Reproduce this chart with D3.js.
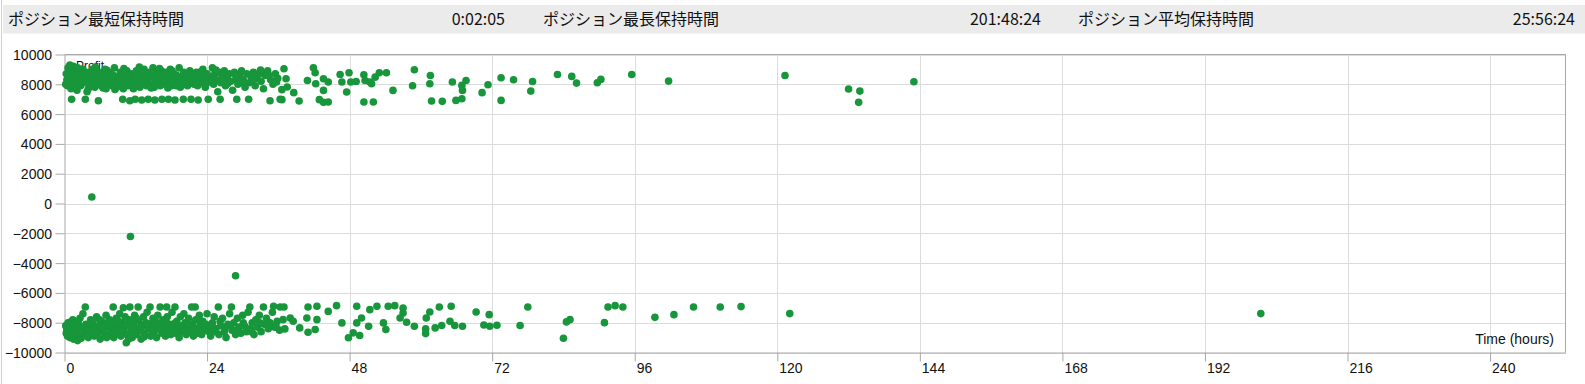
<!DOCTYPE html>
<html><head><meta charset="utf-8">
<script src="https://cdn.jsdelivr.net/npm/d3@7"></script>
<style>
html,body{margin:0;padding:0;background:#fff;}
svg{display:block;}
</style></head>
<body>
<svg id="chart" width="1585" height="384"></svg>
<script>
// ---- header data ----
const headerLabels = ["ポジション最短保持時間", "ポジション最長保持時間", "ポジション平均保持時間"];
const headerValues = ["0:02:05", "201:48:24", "25:56:24"];

// ---- axis data ----
const xTicks = [0, 24, 48, 72, 96, 120, 144, 168, 192, 216, 240];
const yTicks = [-10000, -8000, -6000, -4000, -2000, 0, 2000, 4000, 6000, 8000, 10000];
const xDomain = [0, 252.7];
const yDomain = [-10000, 10000];
const xTitle = "Time (hours)";
const yTitle = "Profit";

// ---- series: [hours, profit] ----
const winTrades = [
[0.3,8700],[0.4,8300],[0.5,7900],[0.6,9100],[0.7,8500],[0.8,8100],[1.0,8800],[1.1,7700],[1.2,7000],[1.3,8400],[1.5,9200],[1.6,8000],[1.8,8600],[2.0,8900],[2.1,7600],[2.3,8200],[2.5,8700],[2.7,7900],[2.9,8400],[3.1,9000],[3.2,8100],[3.5,7000],[3.6,8600],[3.8,7500],[3.9,8300],[4.1,8800],[4.3,7900],[4.5,8500],[4.7,9000],[4.9,8200],[5.1,7800],[5.3,8600],[5.5,8100],[5.7,6900],[5.8,8800],[6.0,8400],[6.2,7900],[6.4,8700],[6.6,8200],[6.8,9000],[7.0,7700],[7.2,8500],[7.4,8100],[7.6,8800],[7.8,8300],[8.0,7900],[8.2,8600],[8.4,9100],[8.6,8200],[8.8,7800],[9.0,8500],[9.2,8000],[9.4,8800],[9.6,8300],[9.8,7000],[9.9,7700],[10.1,8600],[10.3,8100],[10.5,8900],[10.7,7900],[10.9,8400],[11.0,6900],[11.2,8700],[11.4,8200],[11.6,7700],[11.8,8500],[11.9,7000],[12.1,8900],[12.3,8000],[12.5,8400],[12.7,7800],[12.9,8700],[13.0,6950],[13.2,8200],[13.4,9000],[13.6,8500],[13.8,7900],[14.0,8300],[14.1,7000],[14.3,8800],[14.5,8000],[14.7,8500],[14.9,9100],[15.1,7800],[15.2,6950],[15.3,8300],[15.5,8700],[15.7,8100],[15.9,8500],[16.1,7900],[16.3,8900],[16.4,7000],[16.5,8300],[16.7,8600],[16.9,8000],[17.1,8800],[17.3,8200],[17.5,7000],[17.6,8500],[17.8,9000],[18.0,7900],[18.2,8400],[18.4,8700],[18.6,6950],[18.7,8100],[18.9,8600],[19.1,8200],[19.3,9100],[19.5,7800],[19.7,8500],[19.9,8000],[20.0,7000],[20.1,8800],[20.3,8300],[20.5,8600],[20.7,7900],[20.9,8400],[21.1,8900],[21.3,7000],[21.4,8200],[21.6,8700],[21.8,8000],[22.0,8500],[22.2,8800],[22.4,7900],[22.5,6950],[22.7,8300],[22.9,8600],[23.1,8100],[23.3,9000],[23.5,8400],[23.7,7800],[24.0,8700],[24.2,7000],[24.3,8200],[24.6,8500],[24.9,9100],[25.1,8000],[25.3,8700],[25.6,8300],[25.8,7500],[26.0,8800],[26.2,7000],[26.3,8100],[26.6,8600],[26.9,8900],[27.1,7900],[27.4,8400],[27.7,8700],[28.0,8200],[28.3,7600],[28.6,8800],[28.9,8300],[29.0,7000],[29.2,8000],[29.5,8600],[29.8,8900],[30.1,8300],[30.4,7800],[30.7,8700],[31.0,7000],[31.1,8100],[31.4,8500],[31.8,8800],[32.1,7900],[32.4,8400],[32.8,8700],[33.1,8200],[33.5,7700],[33.8,8600],[34.2,8900],[34.6,6900],[34.7,8300],[35.1,8000],[35.5,8700],[35.9,8400],[36.3,7000],
[0.2,8000],[0.9,9300],[1.4,8250],[2.2,9100],[2.6,8050],[3.3,8800],[4.0,7700],[4.6,8350],[5.2,9150],[5.9,8150],[6.5,7750],[7.1,8950],[7.9,8650],[8.5,7650],[9.3,8250],[10.0,9050],[10.6,8350],[11.3,7950],[12.0,8650],[12.6,9150],[13.3,8450],[13.9,8650],[14.6,7750],[15.4,8050],[16.0,9050],[16.8,8350],[17.4,7750],[18.1,8900],[18.8,7900],[19.6,8250],[20.4,8050],[21.2,8550],[22.1,8150],[23.0,8850],[23.9,8050],[24.8,8350],[25.5,8950],[26.5,8350],[27.5,8050],[28.8,8600],[30.0,8100],[31.6,8300],[33.0,8950],[34.4,8600],[35.7,8150],
[36.95,9040],[37.3,8375],[36.6,7640],[37.5,7815],[38.6,7440],[36.6,6970],[39.5,6880],[40.9,8260],[41.9,9110],[42.2,8775],[42.3,8040],[43.6,8375],[44.4,8150],[43.6,7590],[42.9,6970],[43.6,6790],[44.4,6810],[46.4,8660],[46.7,8150],[47.9,8775],[47.5,7480],[48.2,8150],[49.1,8190],[50.4,8640],[50.6,8260],[51.4,8150],[52.3,8480],[53.0,8775],[54.2,8775],[50.4,6810],[52.0,6810],[51.7,8040],[55.3,7590],[58.9,8975],[58.6,7905],[61.6,8595],[61.5,8040],[61.8,6880],[63.6,6855],[65.3,8150],[66.9,7925],[67.6,8260],[67.0,7590],[65.9,6920],[66.9,7035],[70.3,7440],[71.3,7970],[73.5,8440],[73.5,6920],[75.6,8305],[78.8,8190],[78.5,7545],[83.0,8660],[85.4,8530],[86.2,8080],[89.7,8105],[90.3,8330],[95.5,8660],[101.7,8215],[121.3,8595],[132.0,7680],[133.9,7545],[133.7,6790],[143.0,8170],
[4.6,435]
];
const lossTrades = [
[0.2,-8200],[0.3,-8700],[0.5,-8900],[0.6,-8000],[0.8,-8500],[0.9,-9000],[1.1,-8300],[1.2,-8800],[1.4,-7800],[1.5,-9100],[1.7,-8400],[1.9,-8000],[2.0,-8700],[2.2,-9200],[2.4,-8200],[2.6,-7700],[2.7,-8900],[2.9,-8400],[3.1,-7400],[3.3,-8600],[3.5,-6950],[3.6,-8100],[3.8,-8800],[4.0,-9000],[4.2,-8300],[4.4,-7800],[4.6,-8600],[4.8,-8100],[5.0,-8900],[5.2,-8400],[5.4,-7600],[5.6,-8700],[5.8,-8200],[6.0,-9100],[6.2,-7900],[6.4,-8500],[6.6,-8000],[6.8,-8800],[7.0,-7500],[7.2,-8300],[7.4,-8900],[7.6,-7800],[7.8,-8600],[8.0,-8100],[8.2,-6950],[8.3,-9000],[8.5,-8400],[8.7,-7700],[8.9,-8700],[9.1,-8200],[9.3,-7400],[9.5,-8900],[9.7,-8000],[9.9,-7000],[10.0,-8500],[10.2,-7600],[10.4,-9350],[10.5,-8800],[10.7,-8200],[10.9,-7800],[11.0,-6950],[11.2,-8600],[11.4,-9000],[11.6,-8000],[11.8,-7500],[12.0,-8400],[12.2,-8800],[12.4,-6950],[12.5,-7900],[12.7,-8500],[12.9,-9100],[13.1,-8200],[13.3,-7600],[13.5,-8700],[13.7,-8000],[13.9,-7300],[14.1,-8400],[14.4,-6950],[14.5,-8900],[14.7,-8100],[14.9,-7700],[15.1,-8600],[15.3,-8200],[15.5,-9000],[15.7,-7500],[15.9,-8400],[16.1,-6950],[16.2,-8000],[16.4,-8700],[16.6,-7800],[16.8,-8300],[17.0,-8900],[17.2,-6950],[17.3,-7600],[17.5,-8500],[17.7,-8100],[17.9,-8800],[18.1,-7300],[18.3,-8300],[18.6,-6950],[18.7,-8700],[18.9,-7900],[19.1,-8500],[19.3,-9000],[19.5,-7600],[19.7,-8200],[19.9,-8600],[20.1,-7400],[20.3,-8000],[20.5,-8800],[20.7,-8300],[20.9,-7700],[21.1,-8600],[21.4,-6950],[21.5,-8100],[21.7,-8900],[22.0,-6950],[22.1,-7800],[22.3,-8400],[22.5,-8700],[22.7,-7500],[22.9,-8200],[23.1,-8800],[23.3,-7900],[23.5,-8500],[23.8,-8100],[24.0,-7400],[24.3,-8600],[24.6,-8900],[24.9,-8000],[25.2,-7600],[25.5,-8400],[25.9,-6950],[26.0,-8800],[26.3,-8200],[26.6,-7700],[26.9,-8600],[27.2,-9000],[27.5,-8100],[27.8,-7400],[28.1,-6950],[28.2,-8500],[28.5,-8000],[28.8,-8800],[29.1,-7700],[29.4,-8300],[29.7,-8700],[30.0,-7500],[30.3,-8200],[30.6,-8600],[30.9,-7300],[31.2,-6950],[31.3,-8400],[31.6,-8000],[31.9,-8800],[32.2,-7800],[32.5,-8300],[32.8,-7500],[33.1,-8600],[33.5,-6950],[33.6,-8100],[34.0,-7700],[34.3,-8400],[34.6,-8000],[35.0,-7300],[35.2,-6900],[35.4,-8300],[35.8,-7900],[36.3,-6950],[36.2,-8500],
[0.4,-8450],[1.0,-7950],[1.6,-8650],[2.3,-7950],[2.8,-9050],[3.4,-8250],[4.1,-8550],[4.7,-7950],[5.3,-8700],[5.9,-7800],[6.5,-8300],[7.1,-9000],[7.7,-8200],[8.4,-8700],[9.0,-7850],[9.6,-8500],[10.3,-8100],[10.8,-9100],[11.5,-8350],[12.1,-7700],[12.8,-8300],[13.4,-8950],[14.0,-8050],[14.8,-8550],[15.6,-8000],[16.3,-8450],[17.1,-7900],[17.8,-8450],[18.5,-8050],[19.4,-8350],[20.2,-8550],[21.0,-8150],[21.9,-8500],[22.8,-8000],[23.6,-8300],[24.5,-8250],[25.3,-8600],[26.2,-7900],[27.0,-8350],[28.0,-8200],[29.0,-8500],[30.1,-8000],[31.5,-8600],[32.9,-8000],[34.1,-8100],[35.6,-8200],
[36.95,-6945],[38.0,-7680],[36.8,-7795],[37.1,-8415],[38.5,-7905],[39.6,-8350],[41.0,-6945],[42.5,-6900],[40.8,-7680],[42.5,-7795],[41.0,-8640],[42.2,-8460],[44.4,-7240],[45.8,-6855],[46.7,-8015],[47.8,-9015],[48.6,-8680],[49.7,-8860],[49.2,-8015],[50.0,-7680],[51.2,-8240],[49.2,-6900],[51.4,-7125],[52.6,-6900],[53.7,-8015],[54.1,-8460],[54.5,-6900],[55.6,-6855],[57.0,-7010],[57.0,-7345],[56.5,-7680],[57.6,-7970],[58.9,-8240],[60.9,-7680],[61.5,-7280],[60.8,-8415],[60.8,-8730],[62.4,-8350],[63.5,-8190],[63.1,-6945],[65.1,-6900],[64.9,-7905],[65.7,-8190],[67.0,-8240],[69.3,-7280],[71.5,-7460],[70.6,-8150],[71.6,-8240],[72.8,-8175],[76.7,-8190],[78.0,-6945],[84.0,-9040],[84.5,-7945],[85.1,-7795],[90.9,-7995],[91.5,-6945],[92.7,-6855],[94.0,-6945],[99.4,-7640],[102.6,-7460],[105.9,-6945],[110.4,-6945],[113.9,-6920],[122.1,-7390],[201.4,-7390],
[11.1,-2210],[28.8,-4850]
];

// ---- drawing ----
const svg = d3.select("#chart");
const W = 1585, H = 384;
const m = {left: 64.5, right: 1565.5, top: 54.5, bottom: 352.5};

const x = d3.scaleLinear().domain(xDomain).range([m.left, m.right]);
const y = d3.scaleLinear().domain(yDomain).range([m.bottom, m.top]);

// outer left border
svg.append("line").attr("x1",1.5).attr("x2",1.5).attr("y1",0).attr("y2",H)
  .attr("stroke","#cfcfcf").attr("stroke-width",1);

// header bar
svg.append("rect").attr("x",3).attr("y",5).attr("width",W-3).attr("height",28.5).attr("fill","#ebebeb");
const hdrFont = "'Noto Sans CJK JP','Noto Sans',sans-serif";
const labelX = [8, 543, 1078];
const valueX = [505, 1041, 1575];
headerLabels.forEach((t,i)=>{
  svg.append("text").attr("x",labelX[i]).attr("y",25).attr("font-family",hdrFont)
    .attr("font-size",16).attr("fill","#111").text(t);
  svg.append("text").attr("x",valueX[i]).attr("y",25).attr("font-family",hdrFont)
    .attr("font-size",16).attr("fill","#111").attr("text-anchor","end").text(headerValues[i]);
});

// grid
const grid = svg.append("g");
grid.selectAll("line.h").data(yTicks).enter().append("line")
  .attr("x1",m.left).attr("x2",m.right)
  .attr("y1",d=>Math.round(y(d))+0.5).attr("y2",d=>Math.round(y(d))+0.5)
  .attr("stroke","#dcdcdc");
grid.selectAll("line.v").data(xTicks.filter(d=>d>0)).enter().append("line")
  .attr("y1",m.top).attr("y2",m.bottom)
  .attr("x1",d=>Math.round(x(d))+0.5).attr("x2",d=>Math.round(x(d))+0.5)
  .attr("stroke","#dcdcdc");

// plot border (top & right)
svg.append("path")
  .attr("d",`M${m.left},${m.top}H${m.right}V${m.bottom}`)
  .attr("fill","none").attr("stroke","#a8a8a8");

// axes
const axFont = "'Liberation Sans',Arial,sans-serif";
const xAxis = d3.axisBottom(x).tickValues(xTicks).tickSize(9).tickSizeOuter(0).tickFormat(d3.format("d"));
const gx = svg.append("g").attr("transform",`translate(0,${m.bottom})`).call(xAxis);
gx.select(".domain").attr("stroke","#a8a8a8");
gx.selectAll(".tick line").attr("stroke","#a8a8a8");
gx.selectAll(".tick text").attr("font-family",axFont).attr("font-size",14).attr("fill","#111")
  .attr("text-anchor","start").attr("dx",1.5).attr("y",11);

const yAxis = d3.axisLeft(y).tickValues(yTicks).tickSize(9).tickSizeOuter(0).tickFormat(d3.format("d"));
const gy = svg.append("g").attr("transform",`translate(${m.left},0)`).call(yAxis);
gy.select(".domain").attr("stroke","#a8a8a8");
gy.selectAll(".tick line").attr("stroke","#a8a8a8");
gy.selectAll(".tick text").attr("font-family",axFont).attr("font-size",14).attr("fill","#111")
  .attr("x",-12.5).attr("dy","0.36em");

// axis titles
svg.append("text").attr("x",76).attr("y",70).attr("font-family",axFont).attr("font-size",12)
  .attr("fill","#111").text(yTitle);
svg.append("text").attr("x",1554).attr("y",344).attr("font-family",axFont).attr("font-size",14)
  .attr("fill","#111").attr("text-anchor","end").text(xTitle);

// points
const pts = svg.append("g");
pts.selectAll("circle.w").data(winTrades).enter().append("circle")
  .attr("cx",d=>x(d[0])).attr("cy",d=>y(d[1])).attr("r",3.8).attr("fill","#17963b");
pts.selectAll("circle.l").data(lossTrades).enter().append("circle")
  .attr("cx",d=>x(d[0])).attr("cy",d=>y(d[1])).attr("r",3.8).attr("fill","#17963b");
</script>
</body></html>
